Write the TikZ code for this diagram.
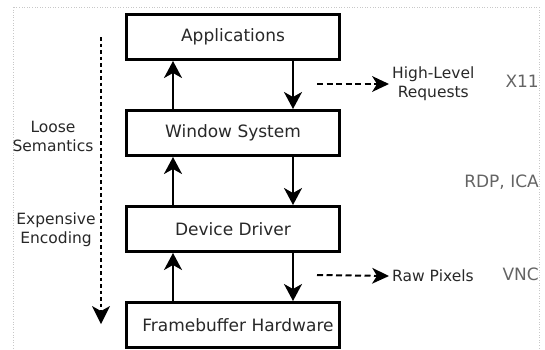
\documentclass[tikz,border=0pt]{standalone}
\usepackage{fontspec}
\setmainfont{DejaVu Sans}
\usepackage{xcolor}
\usetikzlibrary{arrows.meta, positioning}
\definecolor{inktext}{RGB}{40, 40, 40}
\definecolor{prototext}{RGB}{100, 100, 100}
\definecolor{framegray}{RGB}{200, 200, 200}

\begin{document}
\begin{tikzpicture}[
    x=1pt, y=-1pt, node distance=48pt,
    layerbox/.style={rectangle, draw=black, fill=white, line width=3pt, minimum width=213pt, minimum height=45pt, inner sep=0pt, align=center, text=inktext, font=\fontsize{17}{19}\selectfont},
    hint/.style={align=center, inner sep=3pt, text=inktext, font=\fontsize{15.5}{19}\selectfont},
    proto/.style={anchor=east, inner sep=0pt, text=prototext, font=\fontsize{17}{19}\selectfont},
    line/.style={draw, line width=2pt, -{Stealth[length=17pt, width=18pt, inset=5pt]}},
    feed/.style={draw, line width=2pt, dash pattern=on 6pt off 3.5pt, -{Stealth[length=17pt, width=16pt, inset=5pt, line width=0pt]}},
    flowdir/.style={draw, line width=2.5pt, dash pattern=on 3.5pt off 3pt, -{Stealth[length=18pt, width=18pt, inset=5pt, line width=0pt]}}
  ]
    \useasboundingbox (0,0) rectangle (545,349);
    \draw[framegray, dotted, line width=0.6pt] (13,7) rectangle (539,380);

    \node (apps) [layerbox] at (233,37) {Applications};
    \node (win) [layerbox, below=of apps] {Window System};
    \node (drv) [layerbox, below=of win] {Device Driver};
    \node (fb) [layerbox, below=of drv] {\hspace{10pt}Framebuffer Hardware};

    \draw[line] ([xshift=-60pt]win.north) -- ([xshift=-60pt]apps.south);
    \draw[line] ([xshift=60pt]apps.south) -- ([xshift=60pt]win.north);
    \draw[line] ([xshift=-60pt]drv.north) -- ([xshift=-60pt]win.south);
    \draw[line] ([xshift=60pt]win.south) -- ([xshift=60pt]drv.north);
    \draw[line] ([xshift=-60pt]fb.north) -- ([xshift=-60pt]drv.south);
    \draw[line] ([xshift=60pt]drv.south) -- ([xshift=60pt]fb.north);

    % semantics axis on the left
    \coordinate (top) at (101,37);
    \coordinate (bottom) at (101,324);
    \draw[flowdir] (top) -- (bottom);
    \node (loose) [hint] at (53,136) {Loose\\Semantics};
    \node (costly) [hint] at (56,230) {Expensive\\Encoding};

    % what gets shipped, and by whom
    \coordinate (hlstart) at (317,84);
    \node (hlreq) [hint, anchor=west] at (389,84) {High-Level\\Requests};
    \draw[feed] (hlstart) -- (hlreq.west);
    \coordinate (rawstart) at (317,275);
    \node (rawpx) [hint, anchor=west] at (389,276) {Raw Pixels};
    \draw[feed] (rawstart) -- (rawpx.west);

    \node (x11) [proto] at (539,81) {X11};
    \node (rdp) [proto] at (539,182) {RDP, ICA};
    \node (vnc) [proto] at (539,274) {VNC};
  \end{tikzpicture}
\end{document}
